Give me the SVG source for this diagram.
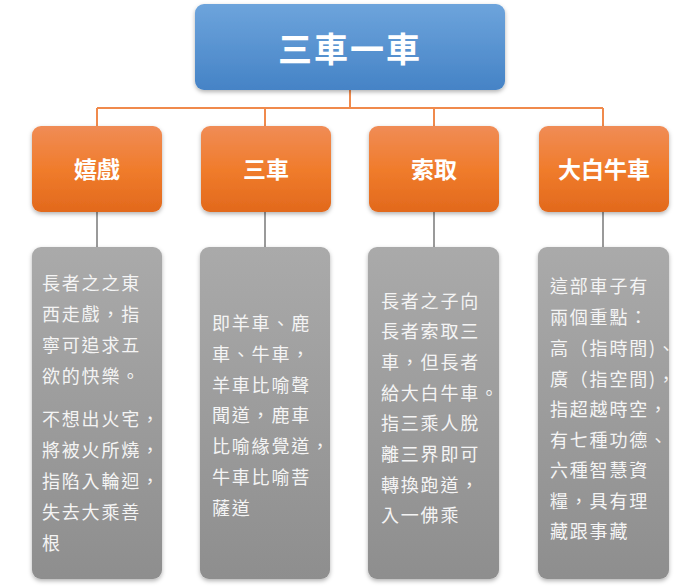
<svg xmlns="http://www.w3.org/2000/svg" width="700" height="587" viewBox="0 0 700 587" lang="zh-Hant-TW" xml:lang="zh-Hant-TW">
<defs>
<linearGradient id="gBlue" x1="0" y1="0" x2="0" y2="1"><stop offset="0" stop-color="#6da4dc"/><stop offset="1" stop-color="#4583c6"/></linearGradient>
<linearGradient id="gOrange" x1="0" y1="0" x2="0" y2="1"><stop offset="0" stop-color="#f08c56"/><stop offset="0.5" stop-color="#f07c2c"/><stop offset="1" stop-color="#e2691c"/></linearGradient>
<linearGradient id="gGrey" x1="0" y1="0" x2="0" y2="1"><stop offset="0" stop-color="#aaaaaa"/><stop offset="1" stop-color="#8e8e8e"/></linearGradient>
<filter id="sh" x="-10%" y="-10%" width="125%" height="125%"><feDropShadow dx="0" dy="2" stdDeviation="2" flood-color="#000" flood-opacity="0.3"/></filter>
</defs>
<style>
.title{font-family:"Noto Sans CJK TC","Noto Sans CJK SC",sans-serif;font-weight:bold;fill:#fff;text-anchor:middle;dominant-baseline:central}
.body{font-family:"Noto Sans CJK TC","Noto Sans CJK SC",sans-serif;font-size:18px;fill:#f4f4f4;letter-spacing:1.8px;font-feature-settings:"locl" 1}
.co{stroke:#f08a4c;stroke-width:2;fill:none}
.cg{stroke:#9a9a9a;stroke-width:2;fill:none}
</style>
<g id="connectors">
<path class="co" d="M350 90 V108 M97 108 H603 M97 108 V126 M265 108 V126 M434 108 V126 M603 108 V126"/>
<path class="cg" d="M97 212 V247 M265 212 V247 M434 212 V247 M603 212 V247"/>
</g>
<g id="root">
<rect x="195" y="4" width="310" height="86" rx="9" fill="url(#gBlue)" filter="url(#sh)"/>
<text class="title" x="350" y="47" font-size="34" letter-spacing="2">三車一車</text>
</g>
<g id="n1">
<rect x="32" y="126" width="130" height="86" rx="9" fill="url(#gOrange)" filter="url(#sh)"/>
<text class="title" x="97" y="168" font-size="23">嬉戲</text>
</g>
<g id="n2">
<rect x="201" y="126" width="130" height="86" rx="9" fill="url(#gOrange)" filter="url(#sh)"/>
<text class="title" x="266" y="168" font-size="23">三車</text>
</g>
<g id="n3">
<rect x="369" y="126" width="130" height="86" rx="9" fill="url(#gOrange)" filter="url(#sh)"/>
<text class="title" x="434" y="168" font-size="23">索取</text>
</g>
<g id="n4">
<rect x="539" y="126" width="130" height="86" rx="9" fill="url(#gOrange)" filter="url(#sh)"/>
<text class="title" x="604" y="168" font-size="23">大白牛車</text>
</g>
<g id="d1">
<rect x="32" y="247" width="130" height="332" rx="9" fill="url(#gGrey)" filter="url(#sh)"/>
<text class="body" x="42">
<tspan x="42" y="290">長者之之東</tspan>
<tspan x="42" y="321">西走戲，指</tspan>
<tspan x="42" y="352">寧可追求五</tspan>
<tspan x="42" y="383">欲的快樂。</tspan>
<tspan x="42" y="426">不想出火宅，</tspan>
<tspan x="42" y="457">將被火所燒，</tspan>
<tspan x="42" y="488">指陷入輪迴，</tspan>
<tspan x="42" y="519">失去大乘善</tspan>
<tspan x="42" y="550">根</tspan>
</text>
</g>
<g id="d2">
<rect x="200" y="247" width="130" height="332" rx="9" fill="url(#gGrey)" filter="url(#sh)"/>
<text class="body">
<tspan x="212" y="330">即羊車、鹿</tspan>
<tspan x="212" y="361">車、牛車，</tspan>
<tspan x="212" y="392">羊車比喻聲</tspan>
<tspan x="212" y="422">聞道，鹿車</tspan>
<tspan x="212" y="453">比喻緣覺道，</tspan>
<tspan x="212" y="484">牛車比喻菩</tspan>
<tspan x="212" y="515">薩道</tspan>
</text>
</g>
<g id="d3">
<rect x="368" y="247" width="131" height="332" rx="9" fill="url(#gGrey)" filter="url(#sh)"/>
<text class="body">
<tspan x="381" y="308">長者之子向</tspan>
<tspan x="381" y="338">長者索取三</tspan>
<tspan x="381" y="369">車，但長者</tspan>
<tspan x="381" y="400">給大白牛車。</tspan>
<tspan x="381" y="430">指三乘人脫</tspan>
<tspan x="381" y="461">離三界即可</tspan>
<tspan x="381" y="492">轉換跑道，</tspan>
<tspan x="381" y="522">入一佛乘</tspan>
</text>
</g>
<g id="d4">
<rect x="538" y="247" width="131" height="332" rx="9" fill="url(#gGrey)" filter="url(#sh)"/>
<text class="body">
<tspan x="550" y="293">這部車子有</tspan>
<tspan x="550" y="324">兩個重點：</tspan>
<tspan x="550" y="355">高（指時間)、</tspan>
<tspan x="550" y="386">廣（指空間)，</tspan>
<tspan x="550" y="416">指超越時空，</tspan>
<tspan x="550" y="447">有七種功德、</tspan>
<tspan x="550" y="477">六種智慧資</tspan>
<tspan x="550" y="508">糧，具有理</tspan>
<tspan x="550" y="538">藏跟事藏</tspan>
</text>
</g>
</svg>
